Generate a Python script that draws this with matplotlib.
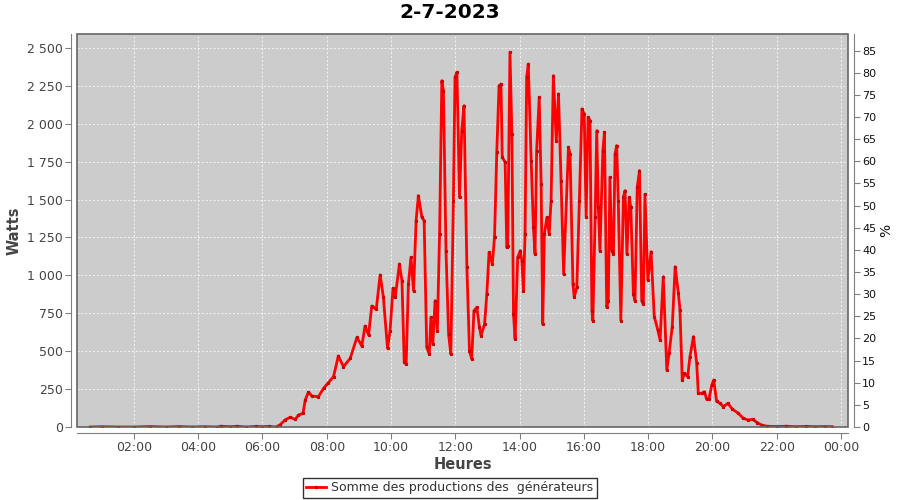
import matplotlib
matplotlib.use("Agg")
import matplotlib.pyplot as plt
from matplotlib.ticker import FuncFormatter, MultipleLocator
from matplotlib.patches import Rectangle

title = "2-7-2023"
series_label = "Somme des productions des  générateurs"

# time of day in decimal hours, power in W
hours = [0.64, 1.0, 1.5, 2.0, 2.5, 3.0, 3.4, 3.8, 4.2, 4.6, 4.7, 5.0, 5.2, 5.5, 5.8, 6.0, 6.2, 6.42,
         6.55, 6.70, 6.86, 7.02, 7.12, 7.26, 7.33, 7.43, 7.54, 7.74, 7.90, 8.05, 8.21, 8.36, 8.52, 8.73,
         8.94, 9.09, 9.19, 9.30, 9.40, 9.54, 9.66, 9.76, 9.89, 9.97, 10.06, 10.13, 10.26, 10.34, 10.41,
         10.47, 10.54, 10.62, 10.70, 10.78, 10.85, 10.96, 11.03, 11.11, 11.19, 11.24, 11.30, 11.37,
         11.44, 11.51, 11.58, 11.63, 11.71, 11.79, 11.86, 11.94, 11.99, 12.05, 12.13, 12.20, 12.27,
         12.36, 12.44, 12.51, 12.58, 12.67, 12.75, 12.80, 12.91, 12.98, 13.05, 13.15, 13.22, 13.29,
         13.36, 13.42, 13.46, 13.55, 13.60, 13.63, 13.70, 13.76, 13.81, 13.86, 13.94, 14.02, 14.07,
         14.12, 14.17, 14.22, 14.27, 14.36, 14.43, 14.48, 14.53, 14.61, 14.67, 14.72, 14.77, 14.85,
         14.92, 14.98, 15.05, 15.14, 15.21, 15.29, 15.37, 15.52, 15.57, 15.66, 15.70, 15.78, 15.86,
         15.94, 16.01, 16.07, 16.13, 16.19, 16.25, 16.28, 16.35, 16.40, 16.45, 16.50, 16.59, 16.64,
         16.71, 16.76, 16.81, 16.87, 16.92, 16.97, 17.02, 17.07, 17.15, 17.23, 17.28, 17.34, 17.41,
         17.46, 17.54, 17.59, 17.66, 17.73, 17.80, 17.85, 17.90, 17.99, 18.09, 18.19, 18.30, 18.37,
         18.47, 18.58, 18.65, 18.75, 18.84, 18.94, 18.99, 19.06, 19.13, 19.23, 19.30, 19.41, 19.51,
         19.56, 19.67, 19.75, 19.82, 19.89, 19.98, 20.04, 20.13, 20.24, 20.34, 20.48, 20.62, 20.81,
         20.96, 21.12, 21.25, 21.40, 21.53, 21.69, 22.0, 22.3, 22.6, 22.9, 23.2, 23.5, 23.72]
watts = [0, 2, 0, 0, 3, 0, 3, 0, 2, 0, 5, 2, 5, 0, 4, 2, 4, 0,
         15, 46, 64, 50, 79, 90, 178, 230, 204, 200, 255, 292, 332, 468, 398, 453,
         592, 534, 666, 607, 798, 776, 1003, 860, 519, 635, 916, 855, 1075, 965, 427,
         415, 943, 1119, 899, 1361, 1526, 1383, 1361, 526, 481, 724, 548, 833,
         635, 1273, 2284, 2218, 1163, 613, 481, 1493, 2307, 2340, 1515, 1955, 2119,
         1053, 503, 449, 767, 790, 658, 602, 679, 877, 1152, 1075, 1251, 1812,
         2251, 2262, 1779, 1746, 1185, 1196, 2472, 1933, 745, 580, 1119, 1163, 1097,
         899, 1273, 2307, 2394, 1757, 1317, 1141, 1823, 2175, 1603, 679, 1273, 1383,
         1273, 1493, 2317, 1889, 2197, 1625, 1009, 1845, 1801, 943, 856, 922, 1493,
         2098, 2065, 1383, 2043, 2021, 767, 701, 1383, 1955, 1449, 1163, 1823, 1944,
         790, 833, 1647, 1163, 1141, 1801, 1856, 1493, 701, 1515, 1559, 1141, 1515,
         1449, 877, 833, 1581, 1691, 833, 811, 1535, 970, 1156, 728, 640, 574,
         991, 376, 486, 662, 1057, 882, 772, 310, 354, 332, 464, 596, 420,
         222, 222, 233, 183, 183, 277, 310, 170, 156, 134, 156, 118, 90,
         57, 46, 51, 28, 13, 5, 3, 5, 2, 4, 2, 3, 2]

watts_per_percent = 29.2  # right axis = % of installed power
ymax = 2592

fig = plt.figure(figsize=(9, 5), dpi=100)
ax = fig.add_axes([0.0856, 0.146, 0.8567, 0.786])
ax.set_facecolor("#cccccc")

ax.plot(hours, watts, color="#ff0000", lw=2.0, marker="s", markersize=1.3,
        markerfacecolor="#cc0000", markeredgecolor="#cc0000", label=series_label)

ax.set_xlim(0.23, 24.22)
ax.set_ylim(0, ymax)
ax.xaxis.set_major_locator(MultipleLocator(2))
ax.xaxis.set_major_formatter(FuncFormatter(lambda v, p: "%02d:00" % (int(round(v)) % 24)))
ax.yaxis.set_major_locator(MultipleLocator(250))
ax.yaxis.set_major_formatter(FuncFormatter(lambda v, p: "{:,}".format(int(v)).replace(",", " ")))
ax.grid(True, color="#f4f4f4", linestyle=(0, (2, 2)), linewidth=0.7)

ax2 = ax.twinx()
ax2.set_ylim(0, ymax / watts_per_percent)
ax2.yaxis.set_major_locator(MultipleLocator(5))

axis_col = "#808080"
for a in (ax, ax2):
    for s in a.spines.values():
        s.set_visible(False)
    a.tick_params(colors=axis_col, labelcolor="#444444", labelsize=9, length=4, width=0.8, pad=2)
for side, a in (("left", ax), ("bottom", ax), ("right", ax2)):
    a.spines[side].set_visible(True)
    a.spines[side].set_position(("outward", 4))
    a.spines[side].set_color(axis_col)
ax2.tick_params(labelcolor="#111111", labelsize=8)
ax.add_patch(Rectangle((0, 0), 1, 1, transform=ax.transAxes, fill=False,
                       edgecolor="#666666", lw=1.2, clip_on=False, zorder=5))

ax.set_ylabel("Watts", fontsize=10.5, fontweight="bold", color="#444444", labelpad=4)
ax.set_xlabel("Heures", fontsize=10.5, fontweight="bold", color="#444444", labelpad=2)
ax2.set_ylabel("%", fontsize=10, color="#111111", labelpad=2)
fig.suptitle(title, fontsize=14.5, fontweight="bold", y=0.993, x=0.5, va="top")

leg = fig.legend(loc="center", bbox_to_anchor=(0.5, 0.024), fontsize=9, frameon=True,
                 fancybox=False, edgecolor="black", handlelength=1.6, borderpad=0.25,
                 handletextpad=0.4)
leg.get_frame().set_linewidth(1.0)
for t in leg.get_texts():
    t.set_color("#333333")

fig.savefig("out.png", dpi=100)
